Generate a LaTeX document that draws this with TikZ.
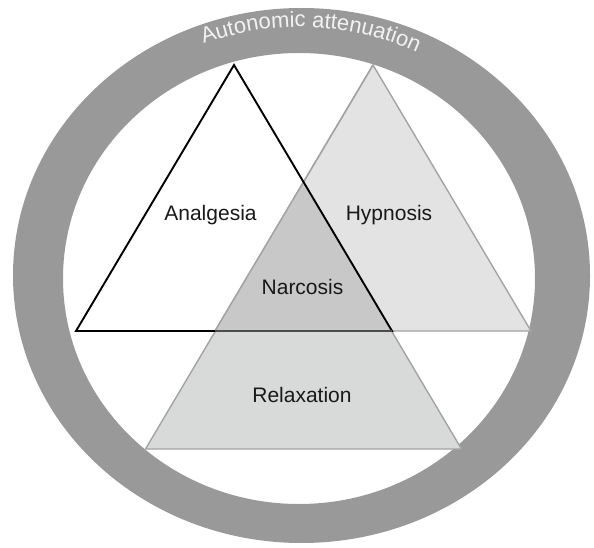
\documentclass[tikz,border=0pt]{standalone}
\usepackage{fontspec}
\setmainfont{Liberation Sans}
\usetikzlibrary{decorations.text}
\definecolor{ringgray}{HTML}{999999}
\definecolor{hypfill}{HTML}{E3E3E3}
\definecolor{relfill}{HTML}{D8D9D9}
\definecolor{narfill}{HTML}{C8C8C8}
\definecolor{edgegray}{HTML}{A3A3A3}
\definecolor{textwhite}{HTML}{F2F2F2}
\tikzset{
  lbl/.style={anchor=base, inner sep=0pt, font=\fontsize{21}{25}\selectfont, text=black!90},
  grayedge/.style={draw=edgegray, line width=1.4pt, line join=miter},
  blackedge/.style={draw=black, line width=1.9pt, line join=miter}
}
\begin{document}
\begin{tikzpicture}[x=1pt,y=1pt]
\useasboundingbox (0,0) rectangle (594,547);
% ring
\fill[ringgray, even odd rule] (301.5,271.5) ellipse [x radius=288.5pt, y radius=267.5pt]
  (299,268.5) ellipse [x radius=236pt, y radius=225.5pt];
% ring text
\path[postaction={decorate}, decoration={text along path, text align=center,
  text={|\fontsize{22}{26}\selectfont\color{textwhite}|Autonomic attenuation}}]
  (300,270) ++(134:265pt and 250pt) arc[start angle=134, end angle=41, x radius=265pt, y radius=250pt];
% coordinates
\coordinate (aA) at (234,482); \coordinate (aL) at (76,216); \coordinate (aR) at (392,216);
\coordinate (hA) at (373,482); \coordinate (hL) at (215,216); \coordinate (hR) at (531,216);
\coordinate (rA) at (303.5,364.5); \coordinate (rL) at (145.5,98); \coordinate (rR) at (461.5,98);
% hypnosis
\path[fill=hypfill, grayedge] (hA) -- (hL) -- (hR) -- cycle;
% relaxation
\path[fill=relfill, grayedge] (rA) -- (rL) -- (rR) -- cycle;
% narcosis
\path[fill=narfill] (rA) -- (hL) -- (aR) -- cycle;
\draw[grayedge] (hA) -- (hL);
% analgesia
\path[blackedge] (aA) -- (aL) -- (aR) -- cycle;
\draw[draw=black!70, line width=1.9pt] (hL) -- (aR);
% labels
\node[lbl] (analgesia) at (210.5,326) {Analgesia};
\node[lbl] (hypnosis) at (389,326) {Hypnosis};
\node[lbl] (narcosis) at (302.5,252.7) {Narcosis};
\node[lbl] (relaxation) at (302,144.7) {Relaxation};
\end{tikzpicture}
\end{document}
